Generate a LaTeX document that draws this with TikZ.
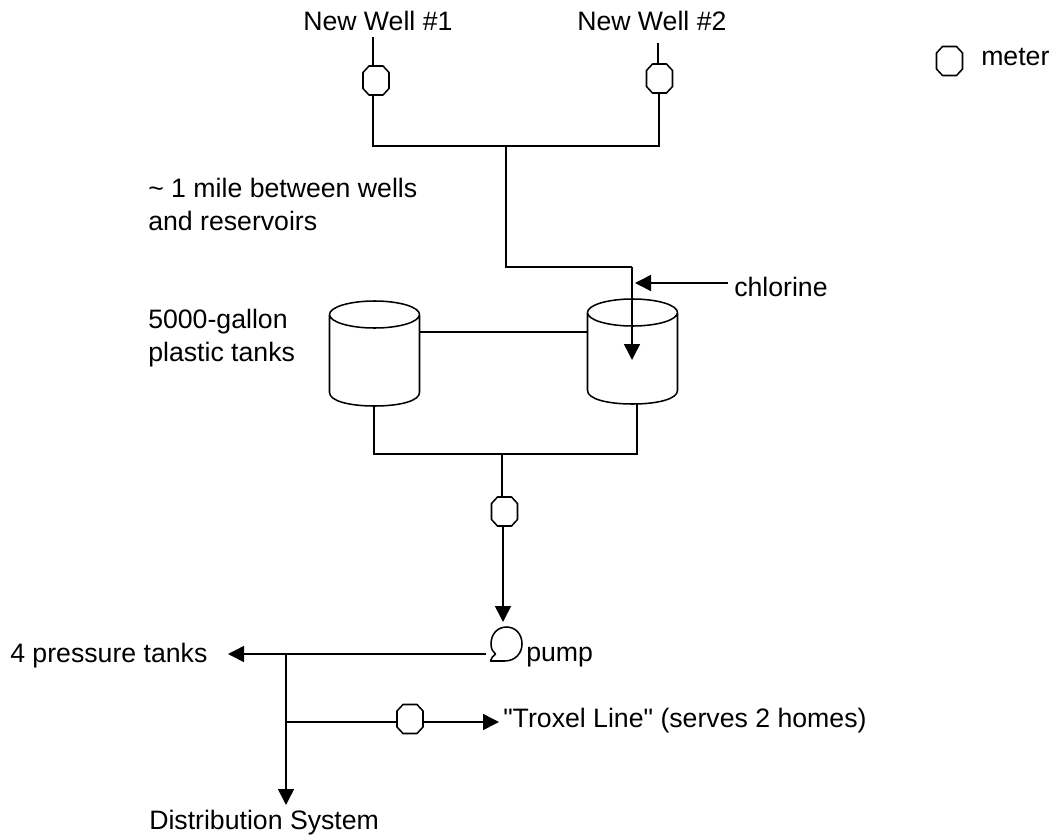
\documentclass[tikz,border=0pt]{standalone}
\usepackage{fontspec}
\setmainfont[Ligatures=TeXOff]{Liberation Sans}
\usetikzlibrary{arrows.meta}
\tikzset{
  x=0.75pt,y=-0.75pt,
  pipe/.style={draw=black,line width=1.15pt},
  flow/.style={pipe,-{Triangle[length=12pt,width=12pt]}},
  outline/.style={draw=black,line width=1.15pt,line join=round},
  meterbox/.style={minimum width=19.5pt,minimum height=21.75pt,inner sep=0pt,outer sep=0pt},
  tankbox/.style={minimum width=67.5pt,minimum height=79pt,inner sep=0pt,outer sep=0pt},
  txt/.style={anchor=base west,inner sep=0pt,font=\fontsize{20pt}{24pt}\selectfont}
}
\newcommand{\meteroutline}[1]{\draw[outline,shift={(#1.center)}] (-13,-8) -- (-7,-14.5) -- (7,-14.5) -- (13,-8) -- (13,8) -- (7,14.5) -- (-7,14.5) -- (-13,8) -- cycle;}
\newcommand{\tankoutline}[1]{\draw[outline,shift={(#1.center)}] (0,-39) ellipse [x radius=45,y radius=13.5] (-45,-39) -- (-45,39) .. controls (-45,47.5) and (-25,52.5) .. (0,52.5) .. controls (25,52.5) and (45,47.5) .. (45,39) -- (45,-39);}
\begin{document}
\begin{tikzpicture}
\useasboundingbox (0,0) rectangle (1056,835);
% wells
\coordinate (w1top) at (373,37);
\coordinate (w2top) at (658,43);
\node[meterbox] (m1) at (376,80.5) {};
\node[meterbox] (m2) at (659.5,78.5) {};
\meteroutline{m1}
\meteroutline{m2}
\coordinate (busl) at (373,146);
\coordinate (busr) at (659,146);
\coordinate (stem) at (506,146);
\coordinate (bend) at (506,267);
\coordinate (bend2) at (632,267);
\coordinate (inlet) at (632,360);
\coordinate (clstart) at (728,283);
\coordinate (cltip) at (635,283);
\draw[pipe] (w1top) -- (w1top |- m1.north);
\draw[pipe] (busl |- m1.south) -- (busl) -- (busr) -- (busr |- m2.south);
\draw[pipe] (w2top) -- (w2top |- m2.north);
\draw[pipe] (stem) -- (bend) -- (bend2);
% tanks
\node[tankbox] (t1) at (374.5,353.5) {};
\node[tankbox] (t2) at (632.5,351.5) {};
\tankoutline{t1}
\tankoutline{t2}
\draw[flow] (bend2) -- (inlet);
\draw[flow] (clstart) -- (cltip);
\coordinate (linkl) at (419.5,332);
\coordinate (linkr) at (587.5,332);
\draw[pipe] (linkl) -- (linkr);
\coordinate (bl) at (374,454);
\coordinate (br) at (637,454);
\draw[pipe] (bl |- t1.south) -- (bl) -- (br) -- (br |- t2.south);
% lower
\node[meterbox] (m3) at (504.5,511.5) {};
\meteroutline{m3}
\coordinate (j3) at (502,454);
\draw[pipe] (j3) -- (j3 |- m3.north);
\coordinate (pumptip) at (503,622);
\draw[flow] (pumptip |- m3.south) -- (pumptip);
% pump
\node[minimum width=23pt,minimum height=25pt,inner sep=0pt,outer sep=0pt] (pump) at (506.5,644) {};
\draw[outline,shift={(pump.center)}] (-16,17) -- (-2,17) .. controls (9,17) and (15.5,9) .. (15.5,0) .. controls (15.5,-10) and (9,-17) .. (0,-17) .. controls (-9,-17) and (-15.5,-10) .. (-15.5,0) .. controls (-15.5,5) and (-13.5,8) .. (-11,10) .. controls (-13.5,12) and (-15.5,14) .. (-16,17) -- cycle;
\coordinate (pl) at (486,654);
\coordinate (ptip) at (228,654);
\coordinate (tee) at (286,654);
\coordinate (tee2) at (286,722);
\coordinate (dtip) at (286,805);
\draw[flow] (pl) -- (ptip);
\draw[flow] (tee) -- (dtip);
\node[meterbox] (m4) at (410,719) {};
\meteroutline{m4}
\coordinate (ttip) at (499,722);
\draw[pipe] (tee2) -- (tee2 -| m4.west);
\draw[flow] (ttip -| m4.east) -- (ttip);
% legend
\node[meterbox] (leg) at (949.5,61) {};
\meteroutline{leg}
% text
\node[txt] (a) at (303,31) {New Well \#1};
\node[txt] (b) at (577,31) {New Well \#2};
\node[txt] (c) at (981,65) {meter};
\node[txt] (d) at (148,197) {\textasciitilde{} 1 mile between wells};
\node[txt] (e) at (148,230) {and reservoirs};
\node[txt] (f) at (734,296) {chlorine};
\node[txt] (g) at (148,328) {5000-gallon};
\node[txt] (h) at (148,361) {plastic tanks};
\node[txt] (i) at (10,662) {4 pressure tanks};
\node[txt] (j) at (526,661) {pump};
\node[txt] (k) at (503,727) {"Troxel Line" (serves 2 homes)};
\node[txt] (l) at (149,829) {Distribution System};
\end{tikzpicture}
\end{document}
